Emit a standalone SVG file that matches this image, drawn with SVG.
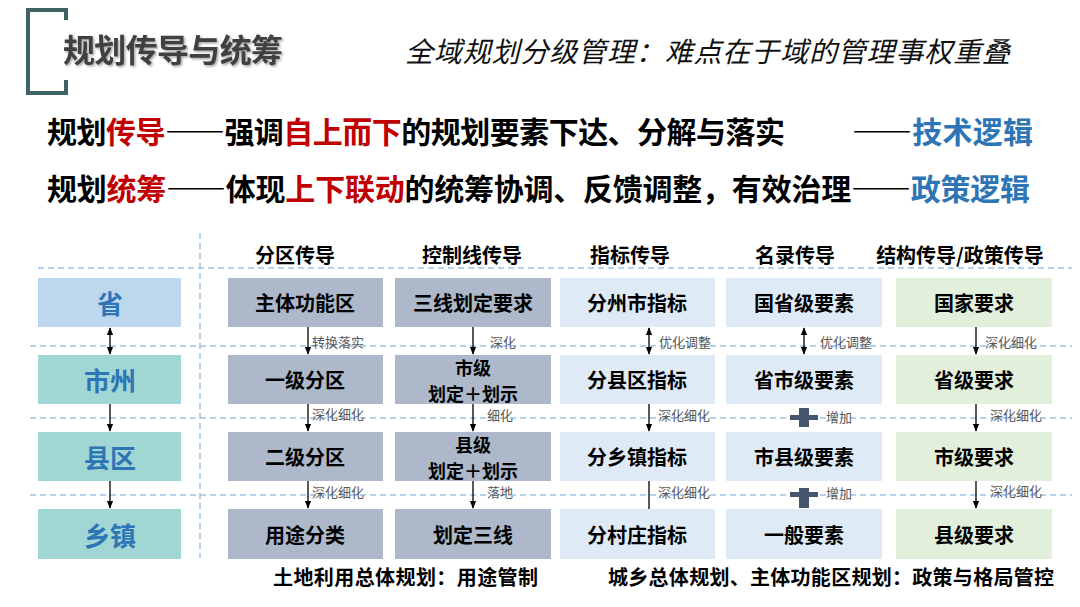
<svg xmlns="http://www.w3.org/2000/svg" width="1080" height="607" viewBox="0 0 1080 607">
<defs>
<style>
text{font-family:"Noto Sans CJK SC","Noto Sans",sans-serif;}
.b{font-weight:bold;}
.big{font-size:30px;font-weight:bold;fill:#000;}
.dsh{font-feature-settings:"fwid" 1;}
.red{fill:#c00000;}
.blue{fill:#2e75b6;}
.hdr{font-size:20px;font-weight:bold;fill:#000;text-anchor:middle;}
.bx{font-size:20px;font-weight:bold;fill:#000;text-anchor:middle;dominant-baseline:central;}
.bx2{font-size:18px;}
.lv{font-size:26px;font-weight:bold;fill:#2e75b6;text-anchor:middle;dominant-baseline:central;}
.lbl{font-size:13px;fill:#595959;dominant-baseline:central;}
.cap{font-size:20px;font-weight:bold;fill:#000;}
.dash{stroke:#9dc3e6;stroke-width:1.5;stroke-dasharray:6 4;fill:none;}
.ln{stroke:#000;stroke-width:1.3;fill:none;}
.g1{fill:#adb9ca;}
.g2{fill:#deebf7;}
.g3{fill:#e2efda;}
.sh{fill:#bdd7ee;}
.tl{fill:#a0d6d4;}
.plus{fill:#44546a;}
</style>
<marker id="ah" viewBox="0 0 10 10" refX="9" refY="5" markerWidth="6" markerHeight="6" orient="auto-start-reverse">
<path d="M0,1 L10,5 L0,9 z" fill="#000"/>
</marker>
<filter id="ds" x="-5%" y="-20%" width="110%" height="140%">
<feDropShadow dx="1.5" dy="1.5" stdDeviation="0.8" flood-color="#000" flood-opacity="0.35"/>
</filter>
</defs>

<g id="title">
<path d="M66,20 V10 H28 V93 H66 V80" fill="none" stroke="#3d6462" stroke-width="4"/>
<text x="63" y="62" font-size="32" class="b" fill="#404040" filter="url(#ds)" textLength="220">规划传导与统筹</text>
<text x="405" y="62" font-size="28" font-style="italic" fill="#111" textLength="605">全域规划分级管理：难点在于域的管理事权重叠</text>
</g>

<g id="statements">
<text x="47" y="143" class="big" textLength="738">规划<tspan class="red">传导</tspan><tspan class="dsh">——</tspan>强调<tspan class="red">自上而下</tspan>的规划要素下达、分解与落实</text>
<text x="852" y="143" class="big" textLength="181"><tspan class="dsh">——</tspan><tspan class="blue">技术逻辑</tspan></text>
<text x="47" y="200" class="big" textLength="983">规划<tspan class="red">统筹</tspan><tspan class="dsh">——</tspan>体现<tspan class="red">上下联动</tspan>的统筹协调、反馈调整，有效治理<tspan class="dsh">——</tspan><tspan class="blue">政策逻辑</tspan></text>
</g>

<g id="grid">
<line class="dash" x1="38" y1="268" x2="1072" y2="268"/>
<line class="dash" x1="30" y1="346" x2="1072" y2="346"/>
<line class="dash" x1="30" y1="418" x2="1072" y2="418"/>
<line class="dash" x1="30" y1="495" x2="1072" y2="495"/>
<line class="dash" x1="200" y1="233" x2="200" y2="558"/>
</g>

<g id="headers">
<text class="hdr" x="295" y="263">分区传导</text>
<text class="hdr" x="472" y="263">控制线传导</text>
<text class="hdr" x="630" y="263">指标传导</text>
<text class="hdr" x="795" y="263">名录传导</text>
<text class="hdr" x="960" y="263">结构传导/政策传导</text>
</g>

<g id="levels">
<g id="lv-sheng"><rect class="sh" x="38" y="278" width="143" height="49"/><text class="lv" x="110" y="302">省</text></g>
<g id="lv-shizhou"><rect class="tl" x="38" y="355" width="143" height="49"/><text class="lv" x="110" y="379">市州</text></g>
<g id="lv-xianqu"><rect class="tl" x="38" y="432" width="143" height="49"/><text class="lv" x="110" y="456">县区</text></g>
<g id="lv-xiangzhen"><rect class="tl" x="38" y="509" width="143" height="50"/><text class="lv" x="110" y="534">乡镇</text></g>
</g>

<g id="col1">
<g id="c1r1"><rect class="g1" x="228" y="278" width="155" height="49"/><text class="bx" x="305" y="302">主体功能区</text></g>
<g id="c1r2"><rect class="g1" x="228" y="355" width="155" height="49"/><text class="bx" x="305" y="379">一级分区</text></g>
<g id="c1r3"><rect class="g1" x="228" y="432" width="155" height="49"/><text class="bx" x="305" y="456">二级分区</text></g>
<g id="c1r4"><rect class="g1" x="228" y="509" width="155" height="50"/><text class="bx" x="305" y="534">用途分类</text></g>
</g>

<g id="col2">
<g id="c2r1"><rect class="g1" x="395" y="278" width="156" height="49"/><text class="bx" x="473" y="302">三线划定要求</text></g>
<g id="c2r2"><rect class="g1" x="395" y="355" width="156" height="49"/><text class="bx bx2" x="473" y="367">市级</text><text class="bx bx2" x="473" y="393">划定＋划示</text></g>
<g id="c2r3"><rect class="g1" x="395" y="432" width="156" height="49"/><text class="bx bx2" x="473" y="444">县级</text><text class="bx bx2" x="473" y="470">划定＋划示</text></g>
<g id="c2r4"><rect class="g1" x="395" y="509" width="156" height="50"/><text class="bx" x="473" y="534">划定三线</text></g>
</g>

<g id="col3">
<g id="c3r1"><rect class="g2" x="560" y="278" width="155" height="49"/><text class="bx" x="637" y="302">分州市指标</text></g>
<g id="c3r2"><rect class="g2" x="560" y="355" width="155" height="49"/><text class="bx" x="637" y="379">分县区指标</text></g>
<g id="c3r3"><rect class="g2" x="560" y="432" width="155" height="49"/><text class="bx" x="637" y="456">分乡镇指标</text></g>
<g id="c3r4"><rect class="g2" x="560" y="509" width="155" height="50"/><text class="bx" x="637" y="534">分村庄指标</text></g>
</g>

<g id="col4">
<g id="c4r1"><rect class="g2" x="726" y="278" width="156" height="49"/><text class="bx" x="804" y="302">国省级要素</text></g>
<g id="c4r2"><rect class="g2" x="726" y="355" width="156" height="49"/><text class="bx" x="804" y="379">省市级要素</text></g>
<g id="c4r3"><rect class="g2" x="726" y="432" width="156" height="49"/><text class="bx" x="804" y="456">市县级要素</text></g>
<g id="c4r4"><rect class="g2" x="726" y="509" width="156" height="50"/><text class="bx" x="804" y="534">一般要素</text></g>
</g>

<g id="col5">
<g id="c5r1"><rect class="g3" x="896" y="278" width="156" height="49"/><text class="bx" x="974" y="302">国家要求</text></g>
<g id="c5r2"><rect class="g3" x="896" y="355" width="156" height="49"/><text class="bx" x="974" y="379">省级要求</text></g>
<g id="c5r3"><rect class="g3" x="896" y="432" width="156" height="49"/><text class="bx" x="974" y="456">市级要求</text></g>
<g id="c5r4"><rect class="g3" x="896" y="509" width="156" height="50"/><text class="bx" x="974" y="534">县级要求</text></g>
</g>

<g id="connectors">
<line class="ln" x1="110" y1="328" x2="110" y2="354" stroke-width="1" marker-start="url(#ah)" marker-end="url(#ah)"/>
<line class="ln" x1="110" y1="404" x2="110" y2="431" stroke-width="1.5" marker-end="url(#ah)"/>
<line class="ln" x1="110" y1="481" x2="110" y2="508" stroke-width="1.5" marker-end="url(#ah)"/>

<line class="ln" x1="308" y1="327" x2="308" y2="354" marker-end="url(#ah)"/>
<line class="ln" x1="308" y1="404" x2="308" y2="431" marker-end="url(#ah)"/>
<line class="ln" x1="308" y1="481" x2="308" y2="508" marker-end="url(#ah)"/>
<text class="lbl" x="312" y="341">转换落实</text>
<text class="lbl" x="312" y="413">深化细化</text>
<text class="lbl" x="312" y="491">深化细化</text>

<line class="ln" x1="473" y1="327" x2="473" y2="354" marker-end="url(#ah)"/>
<line class="ln" x1="473" y1="404" x2="473" y2="431" marker-end="url(#ah)"/>
<line class="ln" x1="473" y1="481" x2="473" y2="508" marker-end="url(#ah)"/>
<text class="lbl" x="490" y="341">深化</text>
<text class="lbl" x="487" y="414">细化</text>
<text class="lbl" x="487" y="491">落地</text>

<line class="ln" x1="649" y1="328" x2="649" y2="354" stroke-width="1" marker-start="url(#ah)" marker-end="url(#ah)"/>
<line class="ln" x1="649" y1="404" x2="649" y2="431" marker-end="url(#ah)"/>
<line class="ln" x1="649" y1="481" x2="649" y2="509"/>
<text class="lbl" x="659" y="341">优化调整</text>
<text class="lbl" x="658" y="414">深化细化</text>
<text class="lbl" x="658" y="491">深化细化</text>

<line class="ln" x1="804" y1="328" x2="804" y2="354" stroke-width="1" marker-start="url(#ah)" marker-end="url(#ah)"/>
<text class="lbl" x="820" y="341">优化调整</text>
<rect class="plus" x="790" y="415" width="28" height="5"/>
<rect class="plus" x="799" y="408" width="10" height="19"/>
<rect class="plus" x="790" y="492" width="28" height="5"/>
<rect class="plus" x="799" y="488" width="10" height="20"/>
<text class="lbl" x="826" y="416">增加</text>
<text class="lbl" x="826" y="492">增加</text>

<line class="ln" x1="976" y1="327" x2="976" y2="354" marker-end="url(#ah)"/>
<line class="ln" x1="976" y1="404" x2="976" y2="431" marker-end="url(#ah)"/>
<line class="ln" x1="976" y1="481" x2="976" y2="508" marker-end="url(#ah)"/>
<text class="lbl" x="985" y="341">深化细化</text>
<text class="lbl" x="990" y="414">深化细化</text>
<text class="lbl" x="990" y="490">深化细化</text>
</g>

<g id="captions">
<text class="cap" x="273" y="585" textLength="265">土地利用总体规划：用途管制</text>
<text class="cap" x="608" y="585" textLength="446">城乡总体规划、主体功能区规划：政策与格局管控</text>
</g>
</svg>
